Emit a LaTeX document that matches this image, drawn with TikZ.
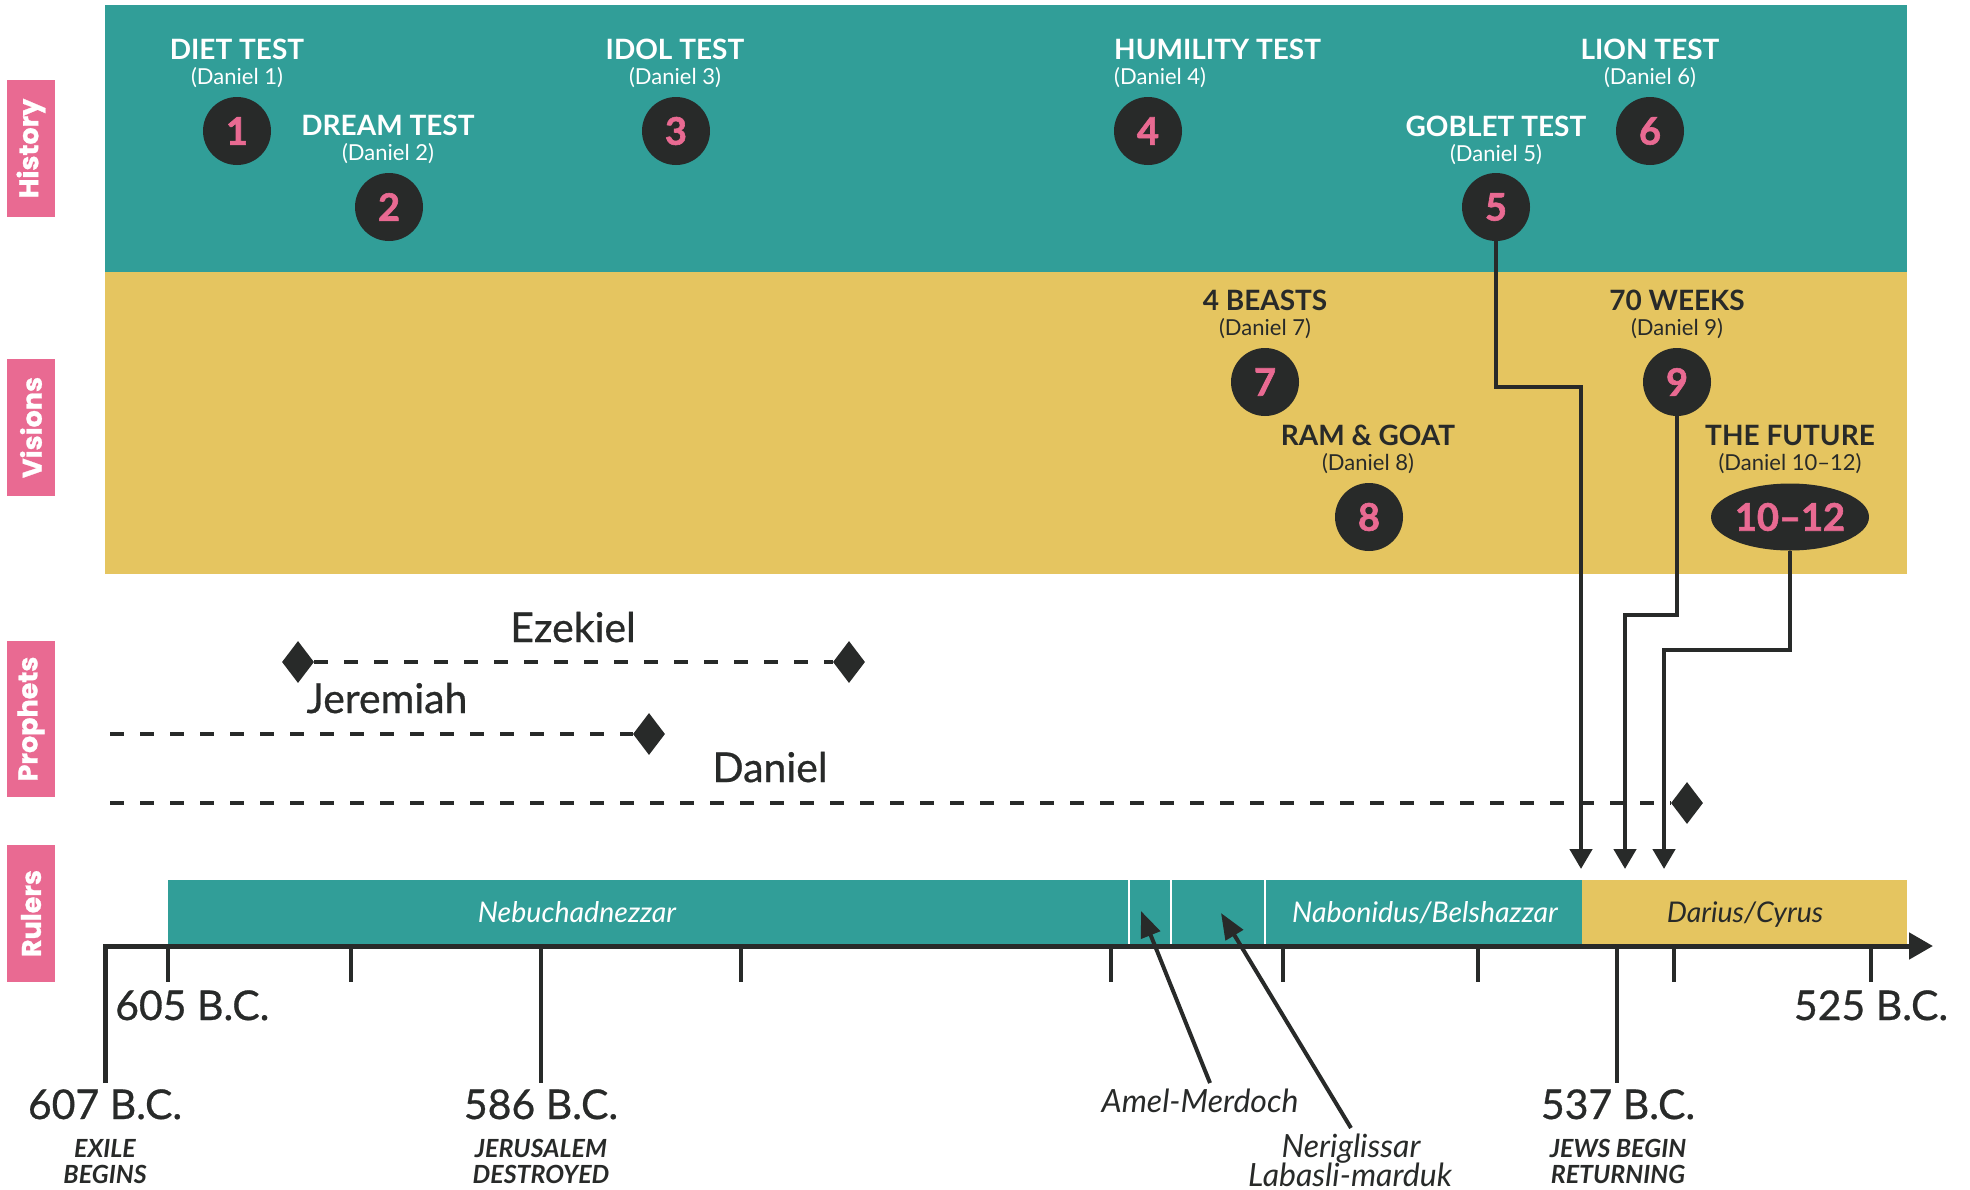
\documentclass[tikz,border=0pt]{standalone}
\usepackage{fontspec}
\setmainfont{Lato}
\newfontfamily\tabfont{Poppins}[BoldFeatures={FakeBold=1.0}]
\newfontfamily\heavyfont{Lato}[BoldFeatures={FakeBold=1.6}]
\newfontfamily\medfont{Lato}[FakeBold=0.7]
\usetikzlibrary{arrows.meta,shapes.geometric}
\definecolor{bandteal}{HTML}{319E98}
\definecolor{bandgold}{HTML}{E5C560}
\definecolor{pinkc}{HTML}{E96A92}
\definecolor{darkc}{HTML}{282A29}
\tikzset{
  tabbox/.style={rotate=90, fill=pinkc, minimum width=137pt, minimum height=48pt, inner sep=0pt, text=white, font=\tabfont\fontsize{27}{27}\selectfont\bfseries},
  num/.style={circle, fill=darkc, minimum size=68pt, inner sep=0pt, text=pinkc, font=\heavyfont\fontsize{38}{38}\selectfont\bfseries},
  ttl/.style={anchor=base, inner sep=0pt, font=\fontsize{28}{30}\selectfont\bfseries},
  sub/.style={anchor=base, inner sep=0pt, font=\fontsize{22}{24}\selectfont},
  conn/.style={draw=darkc, line width=4.5pt, line join=miter, -{Triangle[width=22pt,length=20pt]}},
  diam/.style={diamond, aspect=0.76, fill=darkc, minimum width=32pt, minimum height=42pt, inner sep=0pt},
  dashln/.style={draw=darkc, line width=3.3pt, dash pattern=on 14pt off 16pt},
  pname/.style={anchor=base, inner sep=0pt, text=darkc, font=\medfont\fontsize{41}{42}\selectfont},
  rtext/.style={anchor=base, inner sep=0pt, font=\fontsize{28.5}{30}\selectfont\itshape},
  year/.style={anchor=base, inner sep=0pt, text=darkc, font=\medfont\fontsize{41}{42}\selectfont},
  capt/.style={anchor=base, inner sep=0pt, text=darkc, font=\fontsize{25}{26}\selectfont\bfseries\itshape},
  note/.style={anchor=base, inner sep=0pt, text=darkc, font=\fontsize{32}{34}\selectfont\itshape},
  tick/.style={draw=darkc, line width=4pt},
  axisln/.style={draw=darkc, line width=5pt, line join=miter, -{Triangle[width=26pt,length=24pt]}},
  parrow/.style={draw=darkc, line width=4pt, -{Triangle[width=20pt,length=26pt]}}
}
\begin{document}
\begin{tikzpicture}[x=1pt,y=-1pt]
\useasboundingbox (0,0) rectangle (1970,1189);
% bands
\fill[bandteal] (105,5) rectangle (1907,272);
\fill[bandgold] (105,272) rectangle (1907,574);
% tabs
\node[tabbox] (tabH) at (31,148.5) {History};
\node[tabbox] (tabV) at (31,427.5) {Visions};
\node[tabbox, minimum width=156pt] (tabP) at (31,719) {Prophets};
\node[tabbox] (tabR) at (31,913.5) {Rulers};
% history
\node[ttl, text=white] (h1) at (237,59) {DIET TEST};
\node[sub, text=white] (s1) at (237,84) {(Daniel 1)};
\node[num] (c1) at (237,131) {1};
\node[ttl, text=white] (h2) at (388,135) {DREAM TEST};
\node[sub, text=white] (s2) at (388,160) {(Daniel 2)};
\node[num] (c2) at (389,207) {2};
\node[ttl, text=white] (h3) at (675,59) {IDOL TEST};
\node[sub, text=white] (s3) at (675,84) {(Daniel 3)};
\node[num] (c3) at (676,131) {3};
\node[ttl, text=white, anchor=base west] (h4) at (1114,59) {HUMILITY TEST};
\node[sub, text=white, anchor=base west] (s4) at (1114,84) {(Daniel 4)};
\node[num] (c4) at (1148,131) {4};
\node[ttl, text=white] (h5) at (1496,136) {GOBLET TEST};
\node[sub, text=white] (s5) at (1496,161) {(Daniel 5)};
\node[num] (c5) at (1496,207) {5};
\node[ttl, text=white] (h6) at (1650,59) {LION TEST};
\node[sub, text=white] (s6) at (1650,84) {(Daniel 6)};
\node[num] (c6) at (1650,131) {6};
% visions
\node[ttl, text=darkc] (h7) at (1265,310) {4 BEASTS};
\node[sub, text=darkc] (s7) at (1265,335) {(Daniel 7)};
\node[num] (c7) at (1265,382) {7};
\node[ttl, text=darkc] (h8) at (1368,445) {RAM \& GOAT};
\node[sub, text=darkc] (s8) at (1368,470) {(Daniel 8)};
\node[num] (c8) at (1369,517) {8};
\node[ttl, text=darkc] (h9) at (1677,310) {70 WEEKS};
\node[sub, text=darkc] (s9) at (1677,335) {(Daniel 9)};
\node[num] (c9) at (1677,382) {9};
\node[ttl, text=darkc] (h10) at (1790,445) {THE FUTURE};
\node[sub, text=darkc] (s10) at (1790,470) {(Daniel 10–12)};
\node[num, ellipse, minimum width=158pt, minimum height=67pt] (c10) at (1790,517) {10–12};
% rulers bar
\fill[bandteal] (168,880) rectangle (1582,946);
\fill[bandgold] (1582,880) rectangle (1907,946);
\foreach \sx in {1129,1171,1265} \draw[white, line width=2pt] (\sx,880) -- (\sx,944);
\node[rtext, text=white] (neb) at (577,922) {Nebuchadnezzar};
\node[rtext, text=white] (nab) at (1425,922) {Nabonidus/Belshazzar};
\node[rtext, text=darkc] (dar) at (1745,922) {Darius/Cyrus};
% connectors
\coordinate (k5) at (1581,387); \coordinate (t5) at (1581,869);
\coordinate (k9) at (1625,615); \coordinate (t9) at (1625,869);
\coordinate (k10) at (1664,650); \coordinate (t10) at (1664,869);
% prophets
\node[diam] (ez1) at (298,662) {};
\node[diam] (ez2) at (849,662) {};
\draw[dashln] (ez1.east) -- (ez2.west);
\node[pname] (ezt) at (573,642) {Ezekiel};
\coordinate (jer0) at (110,734);
\node[diam] (jer1) at (649,734) {};
\draw[dashln] (jer0) -- (jer1.west);
\node[pname] (jert) at (387,713) {Jeremiah};
\coordinate (dan0) at (110,803);
\node[diam] (dan1) at (1687,803) {};
\draw[dashln] (dan0) -- (dan1.west);
\node[pname] (dant) at (770,782) {Daniel};
\draw[conn] (c5.south) |- (k5) -- (t5);
\draw[conn] (c9.south) |- (k9) -- (t9);
\draw[conn] (c10.south) |- (k10) -- (t10);
% axis
\coordinate (tk607) at (105,1083);
\coordinate (ax0) at (105,946);
\coordinate (ax1) at (1933,946);
\draw[axisln] (tk607) -- (ax0) -- (ax1);
\foreach \tx in {168,351,741,1111,1283,1478,1674,1871} \draw[tick] (\tx,946) -- (\tx,982);
\foreach \tx in {541,1617} \draw[tick] (\tx,946) -- (\tx,1083);
% years
\node[year, anchor=base west] (y605) at (115,1020) {605 B.C.};
\node[year] (y525) at (1871,1020) {525 B.C.};
\node[year] (y607) at (105,1119) {607 B.C.};
\node[year] (y586) at (541,1119) {586 B.C.};
\node[year] (y537) at (1618,1119) {537 B.C.};
\node[capt] (e1) at (105,1157) {EXILE};
\node[capt] (e2) at (105,1183) {BEGINS};
\node[capt] (j1) at (541,1157) {JERUSALEM};
\node[capt] (j2) at (541,1183) {DESTROYED};
\node[capt] (r1) at (1618,1157) {JEWS BEGIN};
\node[capt] (r2) at (1618,1183) {RETURNING};
% ruler notes
\node[note] (amel) at (1200,1112) {Amel-Merdoch};
\node[note] (neri) at (1351,1157) {Neriglissar};
\node[note] (laba) at (1350,1186) {Labasli-marduk};
\coordinate (am0) at (1210,1083); \coordinate (am1) at (1141,911);
\coordinate (ne0) at (1351,1128); \coordinate (ne1) at (1221,913);
\draw[parrow] (am0) -- (am1);
\draw[parrow] (ne0) -- (ne1);
\end{tikzpicture}
\end{document}
